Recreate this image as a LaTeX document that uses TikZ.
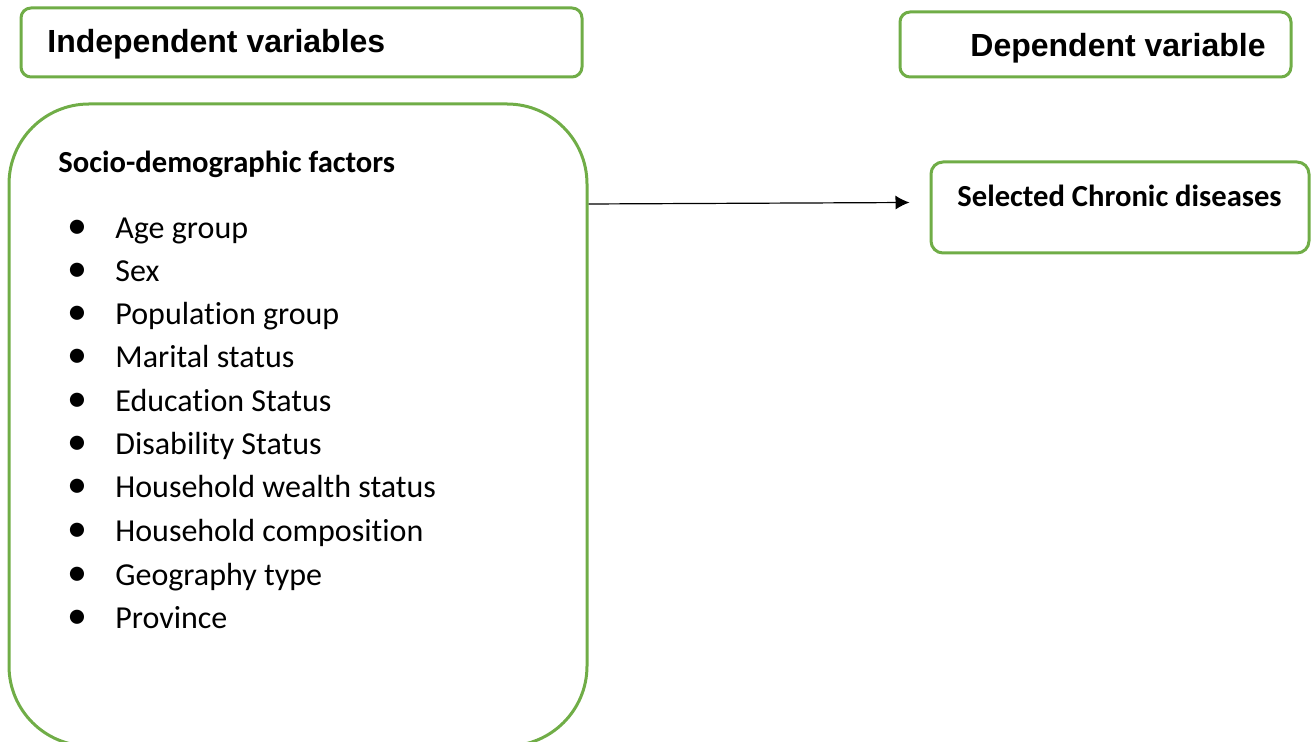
\documentclass[tikz,border=0pt]{standalone}
\usepackage{fontspec}
\setmainfont{Carlito}[Ligatures=NoCommon]
\newfontfamily\headfont{Liberation Sans}
\usetikzlibrary{arrows.meta}

\definecolor{boxgreen}{RGB}{112,173,71}
\newcommand{\itembullet}{\makebox[24pt][l]{\scalebox{1.25}{\textbullet}}}

\tikzset{
  greenbox/.style={draw=boxgreen, line width=1.5pt, rounded corners=#1},
  greenbox/.default=5pt,
  headtext/.style={anchor=base west, inner sep=0pt, font=\headfont\bfseries\fontsize{16}{19}\selectfont},
  itemtext/.style={anchor=base west, inner sep=0pt, font=\fontsize{16}{19}\selectfont},
  boldtext/.style={anchor=base west, inner sep=0pt, font=\bfseries\fontsize{15.3}{18}\selectfont},
}

\begin{document}
\begin{tikzpicture}[x=0.5pt, y=-0.5pt]
  \useasboundingbox (0,0) rectangle (1311,742);
  \clip (0,0) rectangle (1311,742);

  % header boxes
  \draw[greenbox] (21,8) rectangle (582,77);
  \node[headtext] (indep) at (47,53) {Independent variables};

  \draw[greenbox] (900,12) rectangle (1291,77);
  \node[headtext] (dep) at (970,57) {Dependent variable};

  % factors box
  \node[greenbox=40pt, minimum width=578*0.5pt, minimum height=642*0.5pt] (socio) at (298,425) {};
  \node[boldtext] (sociotitle) at (58,173) {Socio-demographic factors};

  \node[itemtext] (I1) at (67,239) {\itembullet Age group};
  \node[itemtext] (I2) at (67,282) {\itembullet Sex};
  \node[itemtext] (I3) at (67,325) {\itembullet Population group};
  \node[itemtext] (I4) at (67,368) {\itembullet Marital status};
  \node[itemtext] (I5) at (67,412) {\itembullet Education Status};
  \node[itemtext] (I6) at (67,455) {\itembullet Disability Status};
  \node[itemtext] (I7) at (67,498) {\itembullet Household wealth status};
  \node[itemtext] (I8) at (67,542) {\itembullet Household composition};
  \node[itemtext] (I9) at (67,585) {\itembullet Geography type};
  \node[itemtext] (I10) at (67,628) {\itembullet Province};

  % outcome box
  \node[greenbox=6pt, minimum width=378*0.5pt, minimum height=91*0.5pt] (chronic) at (1120,207.5) {};
  \node[boldtext] (chronictitle) at (957,207) {Selected Chronic diseases};

  \draw[-{Latex[length=7pt,width=7pt]}, line width=0.6pt]
    (socio.east |- 0,204) -- ([xshift=-10pt,yshift=2.5pt]chronic.west);
\end{tikzpicture}
\end{document}
